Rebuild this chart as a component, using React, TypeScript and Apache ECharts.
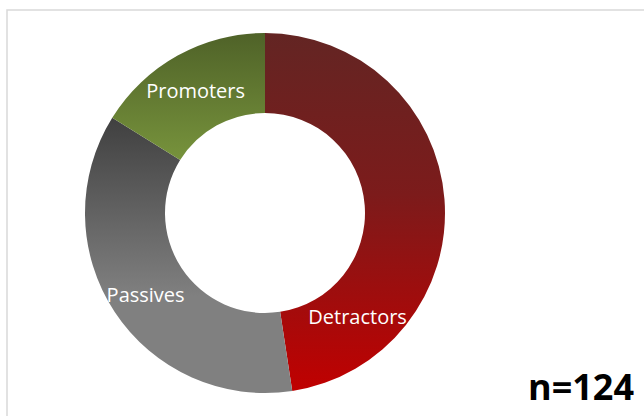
import React, { useEffect, useRef } from "react";
import * as echarts from "echarts";

const categories = ["Detractors", "Passives", "Promoters"];
const values = [59, 45, 20];
const sampleLabel = "n=124";

const gradients = [
  [
    [0, "#632523"],
    [0.45, "#7c1b1b"],
    [1, "#c00000"],
  ],
  [
    [0, "#404040"],
    [0.65, "#808080"],
    [1, "#808080"],
  ],
  [
    [0, "#4f6228"],
    [1, "#77933c"],
  ],
];

export default function App() {
  const ref = useRef<HTMLDivElement>(null);
  useEffect(() => {
    if (!ref.current) return;
    const chart = echarts.init(ref.current, null, { renderer: "svg" });
    const data = categories.map((name, i) => ({
      name,
      value: values[i],
      itemStyle: {
        color: new echarts.graphic.LinearGradient(
          0,
          0,
          0,
          1,
          gradients[i].map(([offset, color]) => ({ offset: offset as number, color: color as string }))
        ),
      },
    }));
    chart.setOption({
      animation: false,
      backgroundColor: "#ffffff",
      graphic: [
        {
          type: "rect",
          shape: { x: 7, y: 10, width: 800, height: 600 },
          style: { fill: "none", stroke: "#d9d9d9", lineWidth: 1.5 },
          silent: true,
        },
        {
          type: "text",
          right: 10,
          top: 368,
          style: {
            text: sampleLabel,
            font: "bold 36px 'Open Sans'",
            fill: "#000000",
          },
        },
      ],
      series: [
        {
          type: "pie",
          center: [265, 213],
          radius: [100, 180],
          startAngle: 90,
          clockwise: true,
          avoidLabelOverlap: false,
          data,
          label: {
            show: true,
            position: "inside",
            formatter: "{b}",
            color: "#ffffff",
            fontFamily: "Open Sans",
            fontSize: 20,
          },
          labelLine: { show: false },
          labelLayout: (params: any) =>
            params.dataIndex === 0
              ? { dx: -50, dy: 114 }
              : params.dataIndex === 1
              ? { dy: 3 }
              : { dy: 3 },
          emphasis: { disabled: true },
        },
      ],
    });
    return () => chart.dispose();
  }, []);
  return (
    <div
      ref={ref}
      style={{ position: "fixed", left: 0, top: 0, width: 644, height: 416 }}
    />
  );
}
